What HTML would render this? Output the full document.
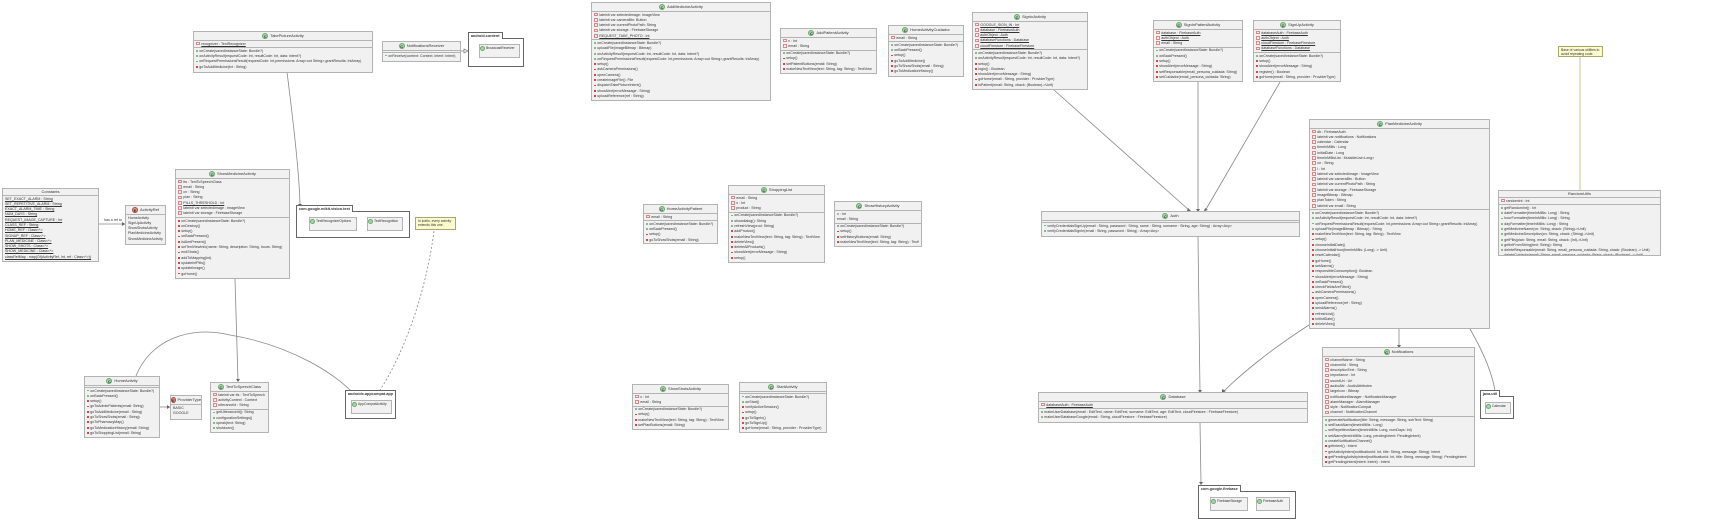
<!DOCTYPE html>
<html><head><meta charset="utf-8">
<style>
*{box-sizing:border-box;margin:0;padding:0}
body{width:1719px;height:520px;background:#fff;position:relative;overflow:hidden;font-family:"Liberation Sans",sans-serif;color:#333}
.c{position:absolute;background:#f1f1f1;border:1px solid #b3b3b3;font-size:3.6px;line-height:5.3px;overflow:hidden}
.h{height:9px;display:flex;align-items:center;justify-content:center;gap:2px;font-size:4px;border-bottom:1px solid #b3b3b3}
.h i{display:inline-block;width:6px;height:6px;border-radius:50%;background:#add1b2;border:0.6px solid #6a6;font-style:normal;font-size:4px;line-height:5px;text-align:center;font-weight:bold}
.h i.e{background:#eb937f;border-color:#a44}
.s{padding:0.5px 2px;border-bottom:1px solid #b3b3b3;white-space:nowrap}
.s:last-child{border-bottom:none}
.s div{height:5.3px;line-height:5.3px;overflow:hidden}
.s div:before{content:"";display:inline-block;width:1.8px;height:1.8px;margin-right:1.5px;vertical-align:middle}
.f div:before{border:0.4px solid #d88;background:none}
.m div:before{background:#6ab06a;border-radius:50%}
.p div:before{background:#d44}
.mix div.pv:before{background:#d44;border-radius:0}
.n div:before{display:none}
u{text-decoration:underline}
.pk{position:absolute;border:1.2px solid #666;background:#fff}
.pk .t{position:absolute;top:-7px;left:-1.2px;height:7px;border:1.2px solid #666;border-bottom:none;background:#fff;font-size:3.8px;font-weight:bold;padding:0 2px;line-height:6px;white-space:nowrap}
.ic{position:absolute;background:#f1f1f1;border:1px solid #b3b3b3;font-size:3.4px;display:flex;align-items:flex-start;padding-top:1px;gap:1px}
.ic i{display:inline-block;width:5px;height:5px;border-radius:50%;background:#add1b2;border:0.5px solid #6a6}
.note{position:absolute;background:#fbfbcf;border:0.8px solid #a8a86a;font-size:3.4px;line-height:4.2px;padding:1px 2px}
.lbl{position:absolute;font-size:3.6px}
</style></head><body>

<svg width="1719" height="520" style="position:absolute;left:0;top:0" fill="none" stroke="#888" stroke-width="0.8">
<path d="M287 72 C293 120 299 170 300 204"/>
<path d="M460 51 L468 51"/>
<path d="M99 224 L125 224"/>
<path d="M235 279 L238 381"/>
<path d="M160 407 L170 407"/>
<path d="M136 376 C150 340 190 325 230 335 C290 345 340 375 358 399"/>
<path d="M434 231 C425 300 400 360 380 390" stroke-dasharray="2,2"/>
<path d="M1054 90 L1190 211"/>
<path d="M1198 82 L1198 211"/>
<path d="M1280 82 L1205 211"/>
<path d="M1198 237 L1200 392"/>
<path d="M1200 423 L1201 484"/>
<path d="M1309 325 C1270 350 1240 375 1223 392"/>
<path d="M1399 329 L1399 347"/>
<path d="M1470 329 C1485 355 1495 380 1496 400"/>
<path d="M1580 57 L1580 190" stroke="#b8b870"/>
<g fill="#666" stroke="none">
<path d="M298 204 L302 204 L300 207Z"/><path d="M1196 209 L1200 209 L1198 212Z"/><path d="M1188 208 L1191 211 L1187 211Z"/><path d="M1205 208 L1208 210 L1204 211Z"/>
<path d="M1198 390 L1202 390 L1200 393Z"/><path d="M1199 482 L1203 482 L1201 485Z"/><path d="M1222 389 L1226 391 L1222 393Z"/><path d="M1397 345 L1401 345 L1399 348Z"/><path d="M1494 398 L1498 398 L1496 401Z"/><path d="M236 379 L240 379 L238 382Z"/><path d="M122 222 L125 224 L122 226Z"/><path d="M167 405 L170 407 L167 409Z"/>
</g>
<path d="M464 49 L468 51 L464 53Z" fill="#fff" stroke="#888"/>
</svg>

<div class="c" style="left:193px;top:31px;width:180px;height:42px">
<div class="h"><i>C</i>TakePictureActivity</div>
<div class="s f"><div><u>recognizer : TextRecognizer</u></div></div>
<div class="s m mix"><div>onCreate(savedInstanceState: Bundle?)</div><div>onActivityResult(requestCode: Int, resultCode: Int, data: Intent?)</div><div>onRequestPermissionsResult(requestCode: Int,permissions: Array&lt;out String&gt;,grantResults: IntArray)</div><div class="pv">goToAddMedicine(txt : String)</div></div>
</div>

<div class="c" style="left:382px;top:41px;width:79px;height:21px">
<div class="h"><i>C</i>NotificationsReceiver</div>
<div class="s n" style="height:2px"></div>
<div class="s m"><div>onReceive(context: Context, intent: Intent)</div></div>
</div>

<div class="pk" style="left:468px;top:38px;width:56px;height:29px"><div class="t">android.content</div></div>
<div class="ic" style="left:479px;top:44px;width:41px;height:14px"><i></i>BroadcastReceiver</div>

<div class="c" style="left:2px;top:188px;width:97px;height:74px">
<div class="h" style="height:7px">Constants</div>
<div class="s n" style="border:none">
<div><u>SET_EXACT_ALARM : String</u></div><div><u>SET_REPETITIVE_ALARM : String</u></div><div><u>EXACT_ALARM_TIME : String</u></div><div><u>NUM_DAYS : String</u></div><div><u>REQUEST_IMAGE_CAPTURE : Int</u></div><div><u>CLASS_REF : String</u></div><div><u>HOME_REF : Class&lt;*&gt;</u></div><div><u>SIGNUP_REF : Class&lt;*&gt;</u></div><div><u>PLAN_MEDICINE : Class&lt;*&gt;</u></div><div><u>SHOW_SHOTS : Class&lt;*&gt;</u></div><div><u>SHOW_MEDICINE : Class&lt;*&gt;</u></div><div><u>classRefMap : map(Of(ActivityRef, Int, ref : Class&lt;*&gt;))</u></div>
</div></div>
<div class="lbl" style="left:104px;top:218px">has a ref to</div>

<div class="c" style="left:125px;top:205px;width:41px;height:40px">
<div class="h"><i class="e">E</i>ActivityRef</div>
<div class="s n"><div>HomeActivity</div><div>SignUpActivity</div><div>ShowShotsActivity</div><div>PlanMedicineActivity</div><div>ShowMedicineActivity</div></div>
</div>

<div class="c" style="left:175px;top:169px;width:115px;height:110px">
<div class="h"><i>C</i>ShowMedicineActivity</div>
<div class="s f"><div>tts : TextToSpeechClass</div><div>email : String</div><div>cn : String</div><div>plan : String</div><div><u>PILLS_THRESHOLD : Int</u></div><div>lateinit var selectedImage : ImageView</div><div>lateinit var storage : FirebaseStorage</div></div>
<div class="s p"><div>onCreate(savedInstanceState: Bundle?)</div><div>onDestroy()</div><div>setup()</div><div>onBackPressed()</div><div>isAlertPresent()</div><div>setTextViewInfo(name: String, description: String, hours: String)</div><div>endShots()</div><div>addToMapping(Int)</div><div>updateInfPills()</div><div>updateImage()</div><div>goHome()</div></div>
</div>

<div class="pk" style="left:296px;top:211px;width:114px;height:27px"><div class="t">com.google.mlkit.vision.text</div></div>
<div class="ic" style="left:309px;top:217px;width:48px;height:14px"><i></i>TextRecognizerOptions</div>
<div class="ic" style="left:367px;top:217px;width:36px;height:14px"><i></i>TextRecognition</div>
<div class="note" style="left:415px;top:217px;width:41px;height:13px">In kotlin, every activity extends this one.</div>

<div class="c" style="left:84px;top:376px;width:76px;height:62px">
<div class="h"><i>C</i>HomeActivity</div>
<div class="s n" style="height:2px"></div>
<div class="s m mix"><div>onCreate(savedInstanceState: Bundle?)</div><div>onBackPressed()</div><div class="pv">setup()</div><div class="pv">goToAdminPatients(email: String)</div><div class="pv">goToAddMedicine(email : String)</div><div class="pv">goToShowShots(email : String)</div><div class="pv">goToPharmacyMap()</div><div class="pv">goToMedicationHistory(email: String)</div><div class="pv">goToShoppingList(email: String)</div></div>
</div>
<div class="c" style="left:170px;top:395px;width:32px;height:25px">
<div class="h"><i class="e">E</i>ProviderType</div>
<div class="s n"><div>BASIC</div><div>GOOGLE</div></div>
</div>
<div class="c" style="left:210px;top:382px;width:59px;height:51px">
<div class="h"><i>C</i>TextToSpeechClass</div>
<div class="s f"><div>lateinit var tts : TextToSpeech</div><div>activityContext : Context</div><div>utteranceId : String</div></div>
<div class="s m"><div>getUtteranceId(): String</div><div>configurationSettings()</div><div>speak(text: String)</div><div>shutdown()</div></div>
</div>
<div class="pk" style="left:345px;top:396px;width:51px;height:23px"><div class="t">androidx.appcompat.app</div></div>
<div class="ic" style="left:351px;top:400px;width:41px;height:14px"><i></i>AppCompatActivity</div>

<div class="c" style="left:591px;top:2px;width:180px;height:99px">
<div class="h"><i>C</i>AddMedicineActivity</div>
<div class="s f"><div>lateinit var selectedImage: ImageView</div><div>lateinit var cameraBtn: Button</div><div>lateinit var currentPhotoPath: String</div><div>lateinit var storage : FirebaseStorage</div><div><u>REQUEST_TAKE_PHOTO : Int</u></div></div>
<div class="s m mix"><div>onCreate(savedInstanceState: Bundle?)</div><div>uploadFile(imageBitmap : Bitmap)</div><div>onActivityResult(requestCode: Int, resultCode: Int, data: Intent?)</div><div>onRequestPermissionsResult(requestCode: Int,permissions: Array&lt;out String&gt;,grantResults: IntArray)</div><div class="pv">setup()</div><div class="pv">askCameraPermissions()</div><div class="pv">openCamera()</div><div class="pv">createImageFile(): File</div><div class="pv">dispatchTakePictureIntent()</div><div class="pv">showAlert(errorMessage : String)</div><div class="pv">uploadReference(ref : String)</div></div>
</div>
<div class="c" style="left:780px;top:28px;width:97px;height:46px">
<div class="h"><i>C</i>AddPatientActivity</div>
<div class="s f"><div>x : Int</div><div>email : String</div></div>
<div class="s m mix"><div>onCreate(savedInstanceState: Bundle?)</div><div class="pv">setup()</div><div class="pv">setPatientButtons(email: String)</div><div class="pv">makeNewTextView(text: String, tag: String) : TextView</div></div>
</div>
<div class="c" style="left:888px;top:25px;width:76px;height:52px">
<div class="h"><i>C</i>HomeActivityCuidador</div>
<div class="s f"><div>email : String</div></div>
<div class="s m mix"><div>onCreate(savedInstanceState: Bundle?)</div><div>onBackPressed()</div><div class="pv">setup()</div><div class="pv">goToAddMedicine()</div><div class="pv">goToShowShots(email : String)</div><div class="pv">goToMedicationHistory()</div></div>
</div>
<div class="c" style="left:972px;top:12px;width:116px;height:78px">
<div class="h"><i>C</i>SignInActivity</div>
<div class="s f"><div><u>GOOGLE_SIGN_IN : Int</u></div><div><u>database : FirebaseAuth</u></div><div><u>authObject : Auth</u></div><div><u>databaseFunctions : Database</u></div><div><u>cloudFirestore : FirebaseFirestore</u></div></div>
<div class="s m mix"><div>onCreate(savedInstanceState: Bundle?)</div><div>onActivityResult(requestCode: Int, resultCode: Int, data: Intent?)</div><div class="pv">setup()</div><div class="pv">login() : Boolean</div><div class="pv">showAlert(errorMessage : String)</div><div class="pv">goHome(email : String, provider : ProviderType)</div><div class="pv">isPatient(email: String, cback: (Boolean)-&gt;Unit)</div></div>
</div>
<div class="c" style="left:1153px;top:20px;width:90px;height:62px">
<div class="h"><i>C</i>SignInPatientActivity</div>
<div class="s f"><div><u>database : FirebaseAuth</u></div><div><u>authObject : Auth</u></div><div>email : String</div></div>
<div class="s m mix"><div>onCreate(savedInstanceState: Bundle?)</div><div>onBackPressed()</div><div class="pv">setup()</div><div class="pv">showAlert(errorMessage : String)</div><div class="pv">setResponsable(email_persona_cuidada: String)</div><div class="pv">setCuidador(email_persona_cuidada: String)</div></div>
</div>
<div class="c" style="left:1253px;top:20px;width:88px;height:62px">
<div class="h"><i>C</i>SignUpActivity</div>
<div class="s f"><div><u>databaseAuth : FirebaseAuth</u></div><div><u>authObject : Auth</u></div><div><u>cloudFirestore : FirebaseFirestore</u></div><div><u>databaseFunctions : Database</u></div></div>
<div class="s m mix"><div>onCreate(savedInstanceState: Bundle?)</div><div class="pv">setup()</div><div class="pv">showAlert(errorMessage : String)</div><div class="pv">register() : Boolean</div><div class="pv">goHome(email : String, provider : ProviderType)</div></div>
</div>

<div class="c" style="left:643px;top:204px;width:75px;height:40px">
<div class="h"><i>C</i>HomeActivityPatient</div>
<div class="s f"><div>email : String</div></div>
<div class="s m mix"><div>onCreate(savedInstanceState: Bundle?)</div><div>onBackPressed()</div><div class="pv">setup()</div><div class="pv">goToShowShots(email : String)</div></div>
</div>
<div class="c" style="left:728px;top:185px;width:97px;height:78px">
<div class="h"><i>C</i>ShoppingList</div>
<div class="s f"><div>email : String</div><div>x : Int</div><div>product : String</div></div>
<div class="s m mix"><div>onCreate(savedInstanceState: Bundle?)</div><div>showdialog(): String</div><div>refreshView(prod: String)</div><div class="pv">addProduct()</div><div class="pv">makeNewTextView(text: String, tag: String) : TextView</div><div class="pv">deleteView()</div><div class="pv">deleteAllProducts()</div><div class="pv">showAlert(errorMessage : String)</div><div class="pv">setup()</div></div>
</div>
<div class="c" style="left:834px;top:201px;width:88px;height:46px">
<div class="h"><i>C</i>ShowHistoryActivity</div>
<div class="s n"><div>x : Int</div><div>email : String</div></div>
<div class="s m mix"><div>onCreate(savedInstanceState: Bundle?)</div><div class="pv">setup()</div><div class="pv">setHistoryButtons(email: String)</div><div class="pv">makeNewTextView(text: String, tag: String) : TextView</div></div>
</div>

<div class="c" style="left:1041px;top:211px;width:259px;height:26px">
<div class="h"><i>C</i>Auth</div>
<div class="s n" style="height:2px"></div>
<div class="s m"><div>verifyCredentialsSignUp(email : String, password : String, name : String, surname : String, age: String) : Array&lt;Any&gt;</div><div>verifyCredentialsSignIn(email : String, password : String) : Array&lt;Any&gt;</div></div>
</div>

<div class="c" style="left:1309px;top:119px;width:181px;height:210px">
<div class="h"><i>C</i>PlanMedicineActivity</div>
<div class="s f"><div>db : FirebaseAuth</div><div>lateinit var notifications : Notifications</div><div>calendar : Calendar</div><div>timeInMillis : Long</div><div>initialDate : Long</div><div>timeInMillisList : MutableList&lt;Long&gt;</div><div>cn : String</div><div>i : Int</div><div>lateinit var selectedImage : ImageView</div><div>lateinit var cameraBtn : Button</div><div>lateinit var currentPhotoPath : String</div><div>lateinit var storage : FirebaseStorage</div><div>imageBitmap : Bitmap</div><div>planToken : String</div><div>lateinit var email : String</div></div>
<div class="s m mix"><div>onCreate(savedInstanceState: Bundle?)</div><div>onActivityResult(requestCode: Int, resultCode: Int, data: Intent?)</div><div>onRequestPermissionsResult(requestCode: Int,permissions: Array&lt;out String&gt;,grantResults: IntArray)</div><div>uploadFile(imageBitmap : Bitmap) : String</div><div class="pv">makeNewTextView(text: String, tag: String) : TextView</div><div class="pv">setup()</div><div class="pv">chooseInitialDate()</div><div class="pv">chooseInitialHour(timeInMillis: (Long) -&gt; Unit)</div><div class="pv">resetCalendar()</div><div class="pv">goHome()</div><div class="pv">setAlarms()</div><div class="pv">responsibleConsumption(): Boolean</div><div class="pv">showAlert(errorMessage : String)</div><div class="pv">onBackPressed()</div><div class="pv">checkFieldsAreFilled()</div><div class="pv">askCameraPermissions()</div><div class="pv">openCamera()</div><div class="pv">uploadReference(ref : String)</div><div class="pv">sendAlarms()</div><div class="pv">refreshList()</div><div class="pv">initInitDate()</div><div class="pv">deleteView()</div></div>
</div>

<div class="note" style="left:1558px;top:46px;width:45px;height:11px">Base of various utilities to avoid repeating code.</div>
<div class="c" style="left:1498px;top:190px;width:163px;height:66px">
<div class="h" style="height:7px">RandomUtils</div>
<div class="s f"><div>randomInt : Int</div></div>
<div class="s m"><div>getRandomInt() : Int</div><div>dateFormatter(timeInMillis: Long) : String</div><div>hourFormatter(timeInMillis: Long) : String</div><div>dayFormatter(timeInMillis: Long) : String</div><div>getMedicineName(cn: String, cback: (String)-&gt;Unit)</div><div>getMedicineDescription(cn: String, cback: (String)-&gt;Unit)</div><div>getPills(plan: String, email: String, cback: (Int)-&gt;Unit)</div><div>getIntFromString(text: String): String</div><div>deleteResponsable(email: String, email_persona_cuidada: String, cback: (Boolean) -&gt; Unit)</div><div>deleteCuidador(email: String, email_persona_cuidada: String, cback: (Boolean) -&gt; Unit)</div></div>
</div>

<div class="c" style="left:632px;top:384px;width:97px;height:46px">
<div class="h"><i>C</i>ShowShotsActivity</div>
<div class="s f"><div>x : Int</div><div>email : String</div></div>
<div class="s m mix"><div>onCreate(savedInstanceState: Bundle?)</div><div class="pv">setup()</div><div class="pv">makeNewTextView(text: String, tag: String) : TextView</div><div class="pv">setPlanButtons(email: String)</div></div>
</div>
<div class="c" style="left:739px;top:382px;width:88px;height:51px">
<div class="h"><i>C</i>StartActivity</div>
<div class="s n" style="height:2px"></div>
<div class="s m mix"><div>onCreate(savedInstanceState: Bundle?)</div><div>onStart()</div><div class="pv">verifyActiveSession()</div><div class="pv">setup()</div><div class="pv">goToSignIn()</div><div class="pv">goToSignUp()</div><div class="pv">goHome(email : String, provider : ProviderType)</div></div>
</div>
<div class="c" style="left:1038px;top:392px;width:270px;height:31px">
<div class="h"><i>C</i>Database</div>
<div class="s f"><div><u>databaseAuth : FirebaseAuth</u></div></div>
<div class="s m"><div>makeUserDatabase(email : EditText, name: EditText, surname: EditText, age: EditText, cloudFirestore : FirebaseFirestore)</div><div>makeUserDatabaseGoogle(email : String, cloudFirestore : FirebaseFirestore)</div></div>
</div>
<div class="c" style="left:1322px;top:347px;width:153px;height:120px">
<div class="h"><i>C</i>Notifications</div>
<div class="s f"><div>channelName : String</div><div>channelId : String</div><div>descriptionText : String</div><div>importance : Int</div><div>soundUri : Uri</div><div>audioAttr : AudioAttributes</div><div>largeIcon : Bitmap</div><div>notificationManager : NotificationManager</div><div>alarmManager : AlarmManager</div><div>style : NotificationCompat</div><div>channel : NotificationChannel</div></div>
<div class="s m mix"><div>generateNotification(title: String, message: String, subText: String)</div><div>setExactAlarm(timeInMillis : Long)</div><div>setRepetitiveAlarm(timeInMillis: Long, numDays: Int)</div><div>setAlarm(timeInMillis: Long, pendingIntent: PendingIntent)</div><div>createNotificationChannel()</div><div class="pv">getIntent() : Intent</div><div class="pv">getActivityIntent(notificationId: Int, title: String, message: String): Intent</div><div class="pv">getPendingActivityIntent(notificationId: Int, title: String, message: String): PendingIntent</div><div class="pv">getPendingIntent(intent: Intent) : Intent</div></div>
</div>
<div class="pk" style="left:1480px;top:396px;width:34px;height:23px"><div class="t">java.util</div></div>
<div class="ic" style="left:1485px;top:402px;width:26px;height:12px"><i></i>Calendar</div>
<div class="pk" style="left:1198px;top:491px;width:98px;height:28px"><div class="t">com.google.firebase</div></div>
<div class="ic" style="left:1210px;top:497px;width:38px;height:14px"><i></i>FirebaseStorage</div>
<div class="ic" style="left:1256px;top:497px;width:34px;height:14px"><i></i>FirebaseAuth</div>

</body></html>
